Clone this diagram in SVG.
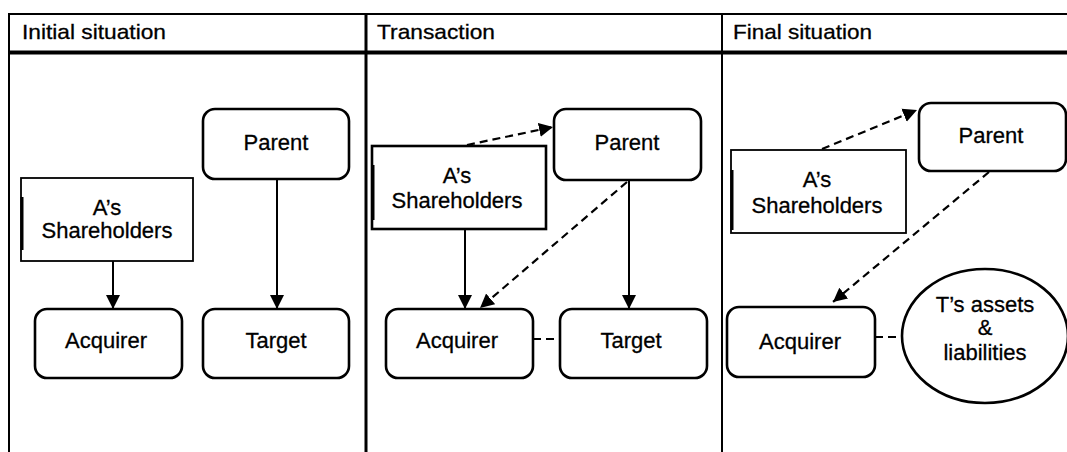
<svg xmlns="http://www.w3.org/2000/svg" width="1067" height="452" viewBox="0 0 1067 452">
<style>
text{font-family:"Liberation Sans",Arial,sans-serif;font-size:22px;fill:#000;text-anchor:middle;stroke:#000;stroke-width:0.3;}
.hdr{text-anchor:start;font-size:21px;}
.box{fill:#fff;stroke:#000;stroke-width:2.6;}
.sq{fill:#fff;stroke:#000;stroke-width:1.8;}
.ln{fill:none;stroke:#000;stroke-width:2;}
.dash{fill:none;stroke:#000;stroke-width:2.2;stroke-dasharray:8 5;}
.frame{stroke:#000;fill:none;}
</style>
<defs>
<marker id="ah" markerUnits="userSpaceOnUse" markerWidth="16" markerHeight="16" refX="14" refY="8" orient="auto" viewBox="0 0 16 16">
<path d="M0,1 L14,8 L0,15 z" fill="#000"/>
</marker>
</defs>
<rect width="1067" height="452" fill="#fff"/>
<g id="frame">
<line class="frame" x1="8" y1="14" x2="1067" y2="14" stroke-width="2"/>
<line class="frame" x1="8" y1="52.5" x2="1067" y2="52.5" stroke-width="4"/>
<line class="frame" x1="9" y1="13" x2="9" y2="452" stroke-width="2"/>
<line class="frame" x1="366" y1="13" x2="366" y2="452" stroke-width="3"/>
<line class="frame" x1="722" y1="13" x2="722" y2="452" stroke-width="2"/>
<text class="hdr" x="22" y="39" textLength="144" lengthAdjust="spacingAndGlyphs">Initial situation</text>
<text class="hdr" x="377" y="39" textLength="118" lengthAdjust="spacingAndGlyphs">Transaction</text>
<text class="hdr" x="733" y="39" textLength="139" lengthAdjust="spacingAndGlyphs">Final situation</text>
</g>
<g id="connectors">
<line class="ln" x1="113" y1="261" x2="113" y2="309" marker-end="url(#ah)"/>
<line class="ln" x1="277" y1="179" x2="277" y2="309" marker-end="url(#ah)"/>
<line class="ln" x1="465" y1="229" x2="465" y2="309" marker-end="url(#ah)"/>
<line class="ln" x1="629" y1="180" x2="629" y2="309" marker-end="url(#ah)"/>
<line class="dash" x1="467" y1="145" x2="553" y2="127" marker-end="url(#ah)"/>
<line class="dash" x1="627" y1="182" x2="480" y2="308" marker-end="url(#ah)"/>
<line class="dash" x1="533" y1="339" x2="560" y2="339"/>
<line class="dash" x1="822" y1="149" x2="917" y2="110" marker-end="url(#ah)"/>
<line class="dash" x1="989" y1="172" x2="833" y2="302" marker-end="url(#ah)"/>
<line class="dash" x1="875" y1="337" x2="902" y2="337"/>
</g>
<g id="p1-parent"><rect class="box" x="203" y="109" width="146" height="70" rx="12"/><text x="276" y="150">Parent</text></g>
<g id="p1-shareholders"><rect class="sq" x="21" y="178" width="172" height="83"/><line x1="22" y1="197" x2="22" y2="250" stroke="#000" stroke-width="3"/><text x="107" y="215">A’s</text><text x="107" y="238">Shareholders</text></g>
<g id="p1-acquirer"><rect class="box" x="35" y="309" width="147" height="69" rx="12"/><text x="106" y="348">Acquirer</text></g>
<g id="p1-target"><rect class="box" x="203" y="309" width="146" height="69" rx="12"/><text x="276" y="348">Target</text></g>
<g id="p2-parent"><rect class="box" x="554" y="109" width="147" height="71" rx="12"/><text x="627" y="150">Parent</text></g>
<g id="p2-shareholders"><rect class="box" x="372" y="146" width="174" height="83"/><line x1="373" y1="165" x2="373" y2="220" stroke="#000" stroke-width="3"/><text x="457" y="183">A’s</text><text x="457" y="208">Shareholders</text></g>
<g id="p2-acquirer"><rect class="box" x="386" y="309" width="147" height="69" rx="12"/><text x="457" y="348">Acquirer</text></g>
<g id="p2-target"><rect class="box" x="560" y="309" width="147" height="69" rx="12"/><text x="631" y="348">Target</text></g>
<g id="p3-parent"><rect class="box" x="919" y="103" width="147" height="68" rx="12"/><text x="991" y="143">Parent</text></g>
<g id="p3-shareholders"><rect class="sq" x="731" y="150" width="175" height="83"/><line x1="732" y1="170" x2="732" y2="230" stroke="#000" stroke-width="3"/><text x="817" y="187">A’s</text><text x="817" y="213">Shareholders</text></g>
<g id="p3-acquirer"><rect class="box" x="727" y="307" width="148" height="70" rx="12"/><text x="800" y="349">Acquirer</text></g>
<g id="p3-assets"><ellipse class="box" cx="985" cy="336" rx="83" ry="67"/><text x="985" y="312">T’s assets</text><text x="985" y="335">&amp;</text><text x="985" y="360">liabilities</text></g>
</svg>
